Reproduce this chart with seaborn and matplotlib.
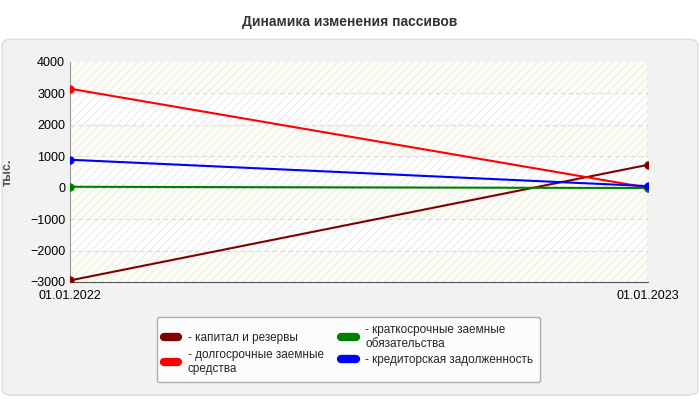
import matplotlib
matplotlib.use("Agg")
import matplotlib.pyplot as plt
import seaborn as sns
import pandas as pd
from matplotlib.patches import FancyBboxPatch, Rectangle

dates = ["01.01.2022", "01.01.2023"]
kapital = [-2950, 730]
dolgo = [3150, 0]
kratko = [30, -10]
kredit = [890, 50]
names = ["капитал и резервы", "долгосрочные заемные\nсредства",
         "краткосрочные заемные\nобязательства", "кредиторская задолженность"]
colors = ["#800000", "#ff0000", "#008000", "#0000ff"]

sns.set_style("white")
plt.rcParams['font.family'] = ['Liberation Sans', 'DejaVu Sans']

df = pd.DataFrame({"x": [0, 1] * 4,
                   "y": kapital + dolgo + kratko + kredit,
                   "s": sum([[n, n] for n in names], [])})

fig = plt.figure(figsize=(7, 4), dpi=100)
bg = FancyBboxPatch((0.003, 0.012), 0.994, 0.89, boxstyle="round,pad=0,rounding_size=0.015",
                    transform=fig.transFigure, fc="#f2f2f2", ec="#dddddd", lw=1, zorder=-10)
fig.patches.append(bg)
fig.text(0.5, 0.945, "Динамика изменения пассивов", ha="center", va="center", fontsize=10, fontweight="bold", color="#333333")
ax = fig.add_axes([0.1, 0.295, 0.826, 0.55])
ax.set_facecolor("white")
for lo in range(-3000, 4000, 2000):
    ax.add_patch(Rectangle((0, lo), 1, 1000, fc="#fdfdf3", ec="none", zorder=0))
ax.add_patch(Rectangle((0, -3000), 1, 7000, fc="none", ec="#eeeeee", hatch="////", lw=0, zorder=0))
for yv in range(-2000, 4000, 1000):
    ax.axhline(yv, color="#dddddd", ls=(0, (4, 3)), lw=0.8, zorder=1)
sns.lineplot(data=df, x="x", y="y", hue="s", palette=colors, marker="o", markersize=6,
             markeredgewidth=0, lw=1.5, ax=ax, legend=False, zorder=3)
ax.set_xlim(0, 1); ax.set_ylim(-3000, 4000)
ax.set_xticks([0, 1]); ax.set_xticklabels(dates)
ax.set_yticks(range(-3000, 4001, 1000))
ax.tick_params(labelsize=9, length=0, colors="#000000")
ax.tick_params(axis="x", pad=6)
ax.set_xlabel(""); ax.set_ylabel("тыс.", fontsize=9, color="#555555", fontweight="bold", labelpad=12)
for s in ["top", "right"]:
    ax.spines[s].set_visible(False)
ax.spines["left"].set_color("#999999"); ax.spines["bottom"].set_color("#555555")
ax.axvline(1, color="#cccccc", lw=1)
handles = [plt.Line2D([], [], color=c, lw=6, solid_capstyle="round") for c in colors]
leg = fig.legend(handles, [("- " + n) for n in names], loc="center", bbox_to_anchor=(0.498, 0.127),
                 ncol=2, fontsize=8.5, frameon=True, handlelength=1.2, columnspacing=1.5, labelspacing=0.4,
                 borderpad=0.6)
leg.get_frame().set_edgecolor("#999999")
leg.get_frame().set_facecolor("white")
fig.savefig("out.png", dpi=100)
